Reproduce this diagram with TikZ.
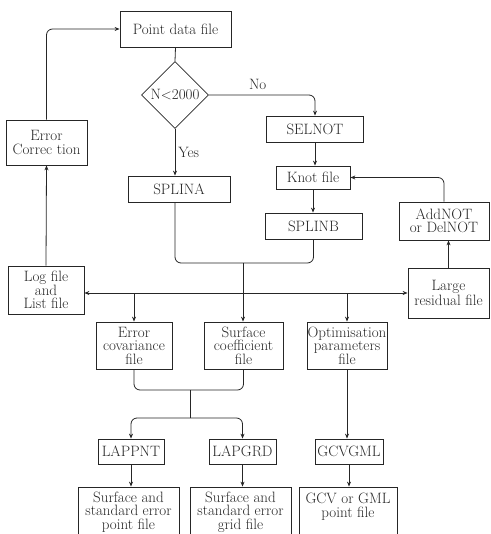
\documentclass[tikz,border=0pt]{standalone}
\usepackage{tikz}
\usetikzlibrary{shapes.geometric, arrows.meta}
\definecolor{ink}{gray}{0.15}

\begin{document}
\begin{tikzpicture}[
        x = 1pt, y = -1pt,
        every node/.style = {
            inner sep = 0pt,
            align = center,
            text = ink,
            font = \fontsize{15}{13.5}\selectfont
        },
        box/.style 2 args = {
            draw = ink,
            line width = 0.8pt,
            minimum width = #1,
            minimum height = #2
        },
        decision/.style = {
            diamond,
            draw = ink,
            line width = 0.8pt,
            aspect = 1,
            minimum width = 67pt,
            minimum height = 67pt
        },
        link/.style = {
            draw = ink,
            line width = 0.8pt,
            rounded corners = 6pt
        },
        flow/.style = {
            link,
            -{Stealth[length = 5pt, width = 4pt]}
        }]
        \clip (0,0) rectangle (490,534);

        \node[box = {111pt}{36pt}] (pdata) at (175.5,29) {Point data file};
        \node[decision] (dec) at (175,95) {N{$<$}2000};
        \node[box = {81pt}{45pt}] (errc) at (46.5,142.5) {Error\\Correc tion};
        \node[box = {102pt}{26pt}] (splina) at (179,189) {SPLINA};
        \node[box = {97pt}{26pt}] (selnot) at (315,129) {SELNOT};
        \node[box = {74pt}{23pt}] (knot) at (313,177.5) {Knot file};
        \node[box = {97pt}{26pt}] (splinb) at (313.5,226) {SPLINB};
        \node[box = {90pt}{38pt}] (addnot) at (444,221) {AddNOT\\or DelNOT};
        \node[box = {76pt}{48pt}] (logf) at (46,290) {Log file\\and\\List file};
        \node[box = {81pt}{50pt}] (large) at (448.5,293) {Large\\residual file};
        \node[box = {76pt}{47pt}] (errcov) at (134,345.5) {Error\\covariance\\file};
        \node[box = {79pt}{47pt}] (surfco) at (243.5,345.5) {Surface\\coefficient\\file};
        \node[box = {80pt}{47pt}] (optim) at (347,345.5) {Optimisation\\parameters\\file};
        \node[box = {66pt}{25pt}] (lappnt) at (131,451.5) {LAPPNT};
        \node[box = {67pt}{25pt}] (lapgrd) at (242.5,451.5) {LAPGRD};
        \node[box = {68pt}{25pt}] (gcvgml) at (349,451.5) {GCVGML};
        \node[box = {101pt}{50pt}] (sepoint) at (128.5,512) {Surface and\\standard error\\point file};
        \node[box = {101pt}{50pt}] (segrid) at (240.5,512) {Surface and\\standard error\\grid file};
        \node[box = {98pt}{50pt}] (gcvpt) at (348,512) {GCV or GML\\point file\\~};

        \coordinate (jct) at (243,263);
        \coordinate (bus) at (243,293);
        \coordinate (mrg) at (190,390);
        \coordinate (spl) at (190,418);

        \draw[flow] (errc.north) |- (pdata.west);
        \draw[link] (pdata.south) -- (dec.north);
        \draw[flow] (dec.south) -- node[right = 3pt] {Yes} (dec.south |- splina.north);
        \draw[flow] (dec.east) -| node[pos = 0.23, above = 5pt] {No} (selnot.north);
        \draw[flow] (selnot.south) -- (selnot.south |- knot.north);
        \draw[flow] (knot.south) -- (knot.south |- splinb.north);
        \draw[flow] (addnot.north) |- (knot.east);
        \draw[flow] (large.north) -- (large.north |- addnot.south);
        \draw[link] (dec.south |- splina.south) |- (jct);
        \draw[link] (splinb.south) |- (jct);
        \draw[flow] (jct) -- (jct |- surfco.north);
        \draw[flow] (bus) -- (logf.east |- bus);
        \draw[flow] (bus) -- (large.west);
        \draw[flow] (errcov.north |- bus) -- (errcov.north);
        \draw[flow] (optim.north |- bus) -- (optim.north);
        \draw[flow] (logf.north) -- (errc.south);
        \draw[link] (errcov.south) |- (mrg) -| (surfco.south);
        \draw[link] (mrg) -- (spl);
        \draw[flow] (spl) -| (lappnt.north);
        \draw[flow] (spl) -| (lapgrd.north);
        \draw[flow] (optim.south) -- (optim.south |- gcvgml.north);
        \draw[flow] (lappnt.south) -- (lappnt.south |- sepoint.north);
        \draw[flow] (lapgrd.south) -- (lapgrd.south |- segrid.north);
        \draw[flow] (gcvgml.south) -- (gcvgml.south |- gcvpt.north);
\end{tikzpicture}
\end{document}
